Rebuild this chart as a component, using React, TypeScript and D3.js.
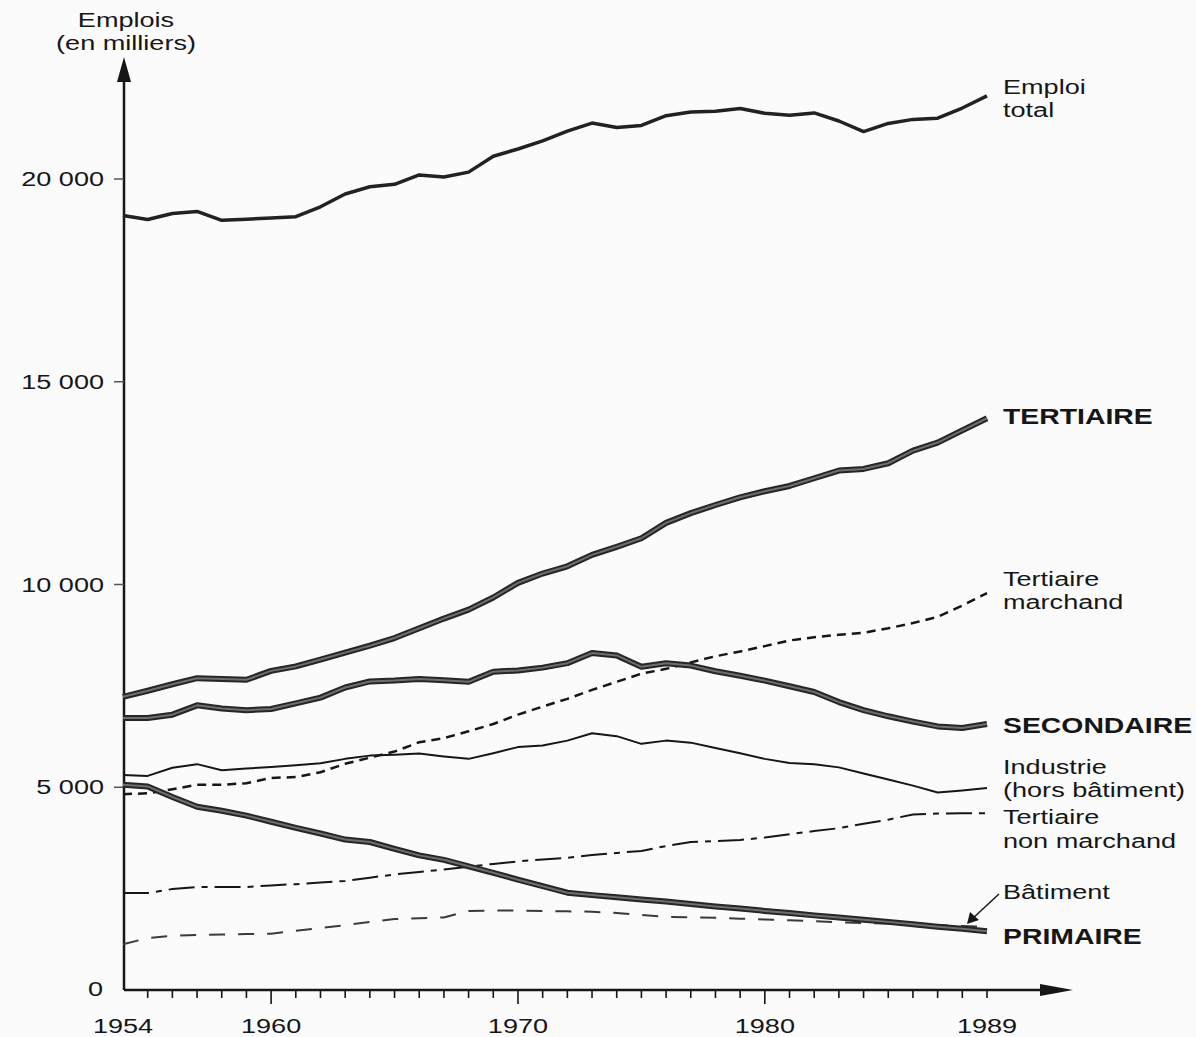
import React from 'react';
import * as d3 from 'd3';

// Emplois par secteur, France 1954-1989 (en milliers)
const years = [
  1954, 1955, 1956, 1957, 1958, 1959, 1960, 1961, 1962, 1963,
  1964, 1965, 1966, 1967, 1968, 1969, 1970, 1971, 1972, 1973,
  1974, 1975, 1976, 1977, 1978, 1979, 1980, 1981, 1982, 1983,
  1984, 1985, 1986, 1987, 1988, 1989,
];

const emploiTotal = [
  19100, 19000, 19150, 19200, 18980, 19010, 19040, 19070, 19315, 19630,
  19810, 19870, 20100, 20050, 20170, 20560, 20740, 20940, 21180, 21380,
  21270, 21320, 21560, 21650, 21670, 21740, 21620, 21570, 21630, 21430,
  21170, 21370, 21470, 21500, 21750, 22050,
];

const tertiaire = [
  7230, 7380, 7540, 7690, 7670, 7650, 7870, 7980, 8150, 8320,
  8490, 8680, 8920, 9160, 9380, 9680, 10040, 10270, 10450, 10730,
  10930, 11140, 11520, 11760, 11960, 12150, 12300, 12430, 12620, 12810,
  12850, 12990, 13300, 13500, 13800, 14100,
];

const tertiaireMarchand = [
  4830, 4850, 4950, 5060, 5060, 5100, 5230, 5250, 5370, 5580,
  5730, 5880, 6110, 6210, 6380, 6560, 6790, 6990, 7180, 7400,
  7600, 7800, 7920, 8080, 8230, 8350, 8480, 8620, 8700, 8760,
  8810, 8920, 9050, 9200, 9480, 9790,
];

const secondaire = [
  6710, 6710, 6790, 7020, 6940, 6900, 6930, 7070, 7210, 7460,
  7610, 7630, 7670, 7640, 7600, 7850, 7880, 7950, 8060, 8310,
  8250, 7970, 8060, 8000, 7860, 7750, 7630, 7490, 7350, 7100,
  6900, 6750, 6620, 6500, 6460, 6560,
];

const industrie = [
  5300, 5280, 5480, 5570, 5420, 5460, 5500, 5540, 5590, 5700,
  5780, 5800, 5830, 5760, 5700, 5840, 5990, 6030, 6150, 6330,
  6260, 6070, 6150, 6100, 5970, 5840, 5700, 5600, 5570, 5490,
  5340, 5190, 5040, 4870, 4920, 4980,
];

const tertiaireNonMarchand = [
  2390, 2390, 2490, 2540, 2540, 2540, 2580, 2610, 2650, 2690,
  2770, 2850, 2910, 2970, 3040, 3110, 3170, 3220, 3260, 3330,
  3380, 3430, 3550, 3650, 3670, 3700, 3760, 3840, 3920, 3990,
  4100, 4200, 4330, 4350, 4360, 4360,
];

const batiment = [
  1130, 1280, 1340, 1360, 1370, 1380, 1390, 1460, 1530, 1600,
  1680, 1750, 1770, 1790, 1950, 1960, 1960, 1950, 1940, 1930,
  1900, 1850, 1800, 1790, 1780, 1760, 1740, 1720, 1700, 1670,
  1650, 1640, 1620, 1600, 1580, 1560,
];

const primaire = [
  5060, 5020, 4760, 4520, 4420, 4300, 4150, 4000, 3860, 3710,
  3650, 3480, 3320, 3210, 3050, 2890, 2720, 2560, 2400, 2340,
  2290, 2230, 2180, 2120, 2060, 2010, 1950, 1900, 1840, 1790,
  1730, 1680, 1620, 1560, 1510, 1450,
];

const yTicks = [5000, 10000, 15000, 20000];
const yTickLabels = ['5 000', '10 000', '15 000', '20 000'];
const xLabelYears = [1954, 1960, 1970, 1980, 1989];
const xMajorYears = [1960, 1970, 1980];

const W = 1196;
const H = 1037;
const INK = '#161616';
const FONT = "'Liberation Sans', Arial, Helvetica, sans-serif";
const STRETCH = 1.29; // the scan is wider than tall

const x = d3.scaleLinear().domain([1954, 1989]).range([123, 987]);
const y = d3.scaleLinear().domain([0, 20000]).range([990, 179]);

const line = d3.line<number>()
  .x((_, i) => x(years[i]))
  .y(d => y(d));

const Label = ({ px, py, children, anchor = 'start', bold = false, size = 21 }: any) => (
  <text
    transform={`translate(${px},${py}) scale(${STRETCH},1)`}
    textAnchor={anchor}
    fontFamily={FONT}
    fontSize={size}
    fontWeight={bold ? 'bold' : 'normal'}
    fill={INK}
  >
    {children}
  </text>
);

// thick sector lines look like a dark outline with a grey core
const Thick = ({ values }: { values: number[] }) => (
  <g fill="none" strokeLinejoin="round">
    <path d={line(values) || ''} stroke="#262626" strokeWidth={6} />
    <path d={line(values) || ''} stroke="#6e6e6e" strokeWidth={2} />
  </g>
);

export default function App() {
  const x0 = x(1954) + 1;
  const y0 = y(0);

  return (
    <svg
      width={W}
      height={H}
      style={{ position: 'absolute', left: 0, top: 0, background: '#fbfbfb' }}
    >
      {/* axis title */}
      <Label px={126} py={27} anchor="middle">Emplois</Label>
      <Label px={126} py={50} anchor="middle">(en milliers)</Label>

      {/* y axis */}
      <line x1={x0} y1={y0} x2={x0} y2={78} stroke={INK} strokeWidth={2.5} />
      <polygon points={`${x0},57 ${x0 - 7},82 ${x0 + 7},82`} fill={INK} />
      {yTicks.map((t, i) => (
        <g key={t}>
          <line x1={x0 - 10} x2={x0} y1={y(t)} y2={y(t)} stroke="#555" strokeWidth={1.5} />
          <Label px={104} py={y(t) + 7} anchor="end">{yTickLabels[i]}</Label>
        </g>
      ))}
      <Label px={103} py={y0 + 6} anchor="end">0</Label>

      {/* x axis */}
      <line x1={x0} y1={y0} x2={1045} y2={y0} stroke={INK} strokeWidth={2.5} />
      <polygon points={`1073,${y0} 1040,${y0 - 6} 1040,${y0 + 6}`} fill={INK} />
      {years.slice(1).map(yr => (
        <line
          key={yr}
          x1={x(yr)}
          x2={x(yr)}
          y1={y0}
          y2={y0 + (xMajorYears.includes(yr) ? 14 : 8)}
          stroke={INK}
          strokeWidth={1.6}
        />
      ))}
      {xLabelYears.map(yr => (
        <Label key={yr} px={x(yr)} py={1033} anchor="middle">{yr}</Label>
      ))}

      {/* series */}
      <path d={line(batiment) || ''} fill="none" stroke="#3a3a3a" strokeWidth={2} strokeDasharray="16,13" />
      <path d={line(tertiaireNonMarchand) || ''} fill="none" stroke={INK} strokeWidth={2} strokeDasharray="26,7,6,7" />
      <path d={line(tertiaireMarchand) || ''} fill="none" stroke={INK} strokeWidth={2.5} strokeDasharray="9,6" />
      <path d={line(industrie) || ''} fill="none" stroke={INK} strokeWidth={2} strokeLinejoin="round" />
      <Thick values={primaire} />
      <Thick values={secondaire} />
      <Thick values={tertiaire} />
      <path d={line(emploiTotal) || ''} fill="none" stroke="#222" strokeWidth={3.5} strokeLinejoin="round" />

      {/* right-hand labels */}
      <Label px={1003} py={94}>Emploi</Label>
      <Label px={1003} py={117}>total</Label>
      <Label px={1003} py={424} bold size={22}>TERTIAIRE</Label>
      <Label px={1003} py={586}>Tertiaire</Label>
      <Label px={1003} py={609}>marchand</Label>
      <Label px={1003} py={733} bold size={22}>SECONDAIRE</Label>
      <Label px={1003} py={774}>Industrie</Label>
      <Label px={1003} py={797}>(hors bâtiment)</Label>
      <Label px={1003} py={824}>Tertiaire</Label>
      <Label px={1003} py={848}>non marchand</Label>
      <Label px={1003} py={899}>Bâtiment</Label>
      <Label px={1003} py={944} bold size={22}>PRIMAIRE</Label>

      {/* arrow to Bâtiment line */}
      <line x1={999} y1={894} x2={972} y2={919} stroke={INK} strokeWidth={1.5} />
      <polygon points="967,924 970,912 979,920" fill={INK} />
    </svg>
  );
}
